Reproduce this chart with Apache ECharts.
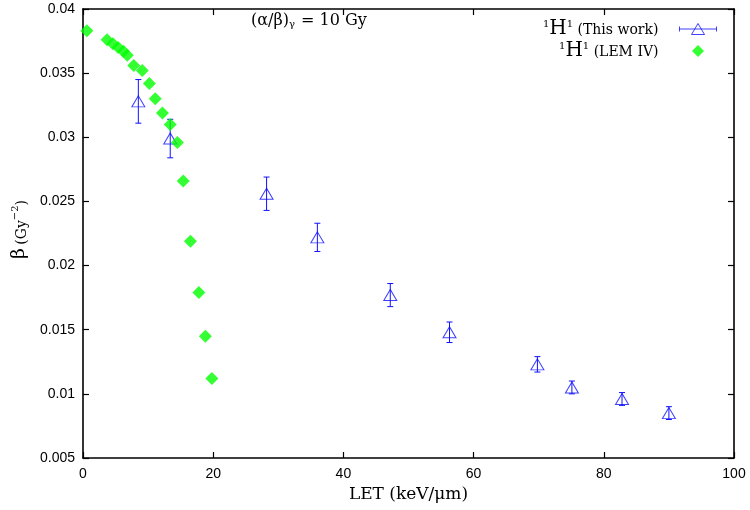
<!DOCTYPE html>
<html>
<head>
<meta charset="utf-8">
<script src="https://cdn.jsdelivr.net/npm/echarts@6/dist/echarts.min.js"></script>
<style>
  html, body { margin: 0; padding: 0; background: #fff; }
  #chart { width: 750px; height: 510px; }
</style>
</head>
<body>
<div id="chart"></div>
<script>
// LEM IV curve (green diamonds)
var lemLet  = [0.6, 3.7, 4.6, 5.4, 6.2, 6.8, 7.8, 9.1, 10.2, 11.1, 12.2, 13.4, 14.5, 15.4, 16.5, 17.8, 18.8, 19.8];
var lemBeta = [0.0383, 0.0376, 0.0373, 0.0370, 0.0367, 0.0364, 0.0356, 0.0352, 0.0342, 0.0330, 0.0319, 0.0310, 0.0296, 0.0266, 0.0219, 0.0179, 0.0145, 0.0112];

// this work (blue triangles with error bars)
var workLet  = [8.5, 13.4, 28.2, 36.0, 47.2, 56.3, 69.8, 75.1, 82.8, 90.0];
var workBeta = [0.0328, 0.0299, 0.0256, 0.0222, 0.0177, 0.0148, 0.0123, 0.0105, 0.0096, 0.0085];
var workErr  = [0.0017, 0.0015, 0.0013, 0.0011, 0.0009, 0.0008, 0.0006, 0.0005, 0.0005, 0.0005];

var xTicks = [0, 100, 20];          // min, max, interval
var yTicks = [0.005, 0.04, 0.005];

var nameWork = 'H1 (This work)';
var nameLem  = 'H1 (LEM IV)';

var serif = '"DejaVu Serif", "Liberation Serif", serif';
var sans  = '"Liberation Sans", Arial, sans-serif';
var blue  = '#1010ff';
var green = '#00ff00';

var lemData = lemLet.map(function (x, i) { return [x, lemBeta[i]]; });
var workData = workLet.map(function (x, i) { return [x, workBeta[i], workErr[i]]; });

var chart = echarts.init(document.getElementById('chart'));

function frameAxis(pos, t, labels) {
  return {
    type: 'value',
    position: pos,
    min: t[0], max: t[1], interval: t[2],
    axisLine: { show: true, onZero: false, lineStyle: { color: '#000', width: 1.6 } },
    axisTick: { show: true, inside: true, length: 6, lineStyle: { color: '#000', width: 1.2 } },
    axisLabel: labels ? { show: true, color: '#000', fontSize: 14, fontFamily: sans } : { show: false },
    splitLine: { show: false }
  };
}

var xBottom = frameAxis('bottom', xTicks, true);
xBottom.axisLabel.margin = 9;
xBottom.name = 'LET (keV/\u03bcm)';
xBottom.nameLocation = 'middle';
xBottom.nameGap = 25;
xBottom.nameTextStyle = { fontFamily: serif, fontSize: 17, color: '#000' };

var yLeft = frameAxis('left', yTicks, true);
yLeft.axisLabel.margin = 8;
yLeft.name = '{b|\u03b2} {n|(Gy}{s|\u22122}{n|)}';
yLeft.nameLocation = 'middle';
yLeft.nameGap = 54;
yLeft.nameRotate = 90;
yLeft.nameTextStyle = {
  color: '#000',
  padding: [0, 0, 0, 8],
  rich: {
    b: { fontFamily: serif, fontSize: 19, color: '#000', verticalAlign: 'bottom' },
    n: { fontFamily: serif, fontSize: 14, color: '#000', verticalAlign: 'bottom' },
    s: { fontFamily: serif, fontSize: 10, color: '#000', verticalAlign: 'top' }
  }
};

chart.setOption({
  animation: false,
  backgroundColor: '#fff',
  grid: { left: 83, right: 16, top: 9, bottom: 52 },
  title: {
    text: '{n|(\u03b1/\u03b2)}{s|\u03b3}{n| = 10 Gy}',
    left: 251, top: 13,
    padding: 0,
    textStyle: {
      fontWeight: 'normal',
      rich: {
        n: { fontFamily: serif, fontSize: 16, fontWeight: 'normal', color: '#000', verticalAlign: 'top' },
        s: { fontFamily: serif, fontSize: 10, fontWeight: 'normal', color: '#000', verticalAlign: 'bottom', padding: [6, 1, 0, 0] }
      }
    }
  },
  legend: {
    orient: 'vertical',
    right: 33, top: 19,
    padding: 0,
    align: 'right',
    itemWidth: 37, itemHeight: 13, itemGap: 2,
    selectedMode: false,
    data: [
      {
        name: nameWork,
        icon: 'path://M0,0 M37,13 M0,6.5 L37,6.5 M0,4 L0,9 M37,4 L37,9 M18.5,1 L12,12 L25,12 Z',
        itemStyle: { color: 'rgba(0,0,0,0)', borderColor: blue, borderWidth: 1 }
      },
      {
        name: nameLem,
        icon: 'path://M0,0 M37,13 M18.5,0.5 L24.5,6.5 L18.5,12.5 L12.5,6.5 Z',
        itemStyle: { color: green, borderWidth: 0 }
      }
    ],
    formatter: function (name) {
      var rest = name === nameWork ? ' (This work)' : ' (LEM IV)';
      return '{s|1}{h|H}{s|1}{t|' + rest + '}';
    },
    textStyle: {
      rich: {
        s: { fontFamily: serif, fontSize: 10, color: '#000', verticalAlign: 'top' },
        h: { fontFamily: serif, fontSize: 20, color: '#000', verticalAlign: 'bottom' },
        t: { fontFamily: serif, fontSize: 14, color: '#000', verticalAlign: 'bottom', padding: [0, 16, 2, 0] }
      }
    }
  },
  xAxis: [xBottom, frameAxis('top', xTicks, false)],
  yAxis: [yLeft, frameAxis('right', yTicks, false)],
  series: [
    {
      name: nameWork + ' bars',
      type: 'custom',
      xAxisIndex: 0, yAxisIndex: 0,
      z: 2,
      data: workData,
      renderItem: function (params, api) {
        var x = api.value(0), y = api.value(1), e = api.value(2);
        var top = api.coord([x, y + e]);
        var bot = api.coord([x, y - e]);
        var st = { stroke: blue, lineWidth: 1 };
        return {
          type: 'group',
          children: [
            { type: 'line', shape: { x1: top[0], y1: top[1], x2: bot[0], y2: bot[1] }, style: st },
            { type: 'line', shape: { x1: top[0] - 3, y1: top[1], x2: top[0] + 3, y2: top[1] }, style: st },
            { type: 'line', shape: { x1: bot[0] - 3, y1: bot[1], x2: bot[0] + 3, y2: bot[1] }, style: st }
          ]
        };
      }
    },
    {
      name: nameWork,
      type: 'scatter',
      xAxisIndex: 0, yAxisIndex: 0,
      z: 3,
      symbol: 'triangle',
      symbolSize: [13, 11],
      itemStyle: { color: 'rgba(0,0,0,0)', borderColor: blue, borderWidth: 1 },
      data: workData
    },
    {
      name: nameLem,
      type: 'scatter',
      xAxisIndex: 0, yAxisIndex: 0,
      z: 4,
      symbol: 'diamond',
      symbolSize: 13,
      itemStyle: { color: green },
      data: lemData
    }
  ]
});
</script>
</body>
</html>
